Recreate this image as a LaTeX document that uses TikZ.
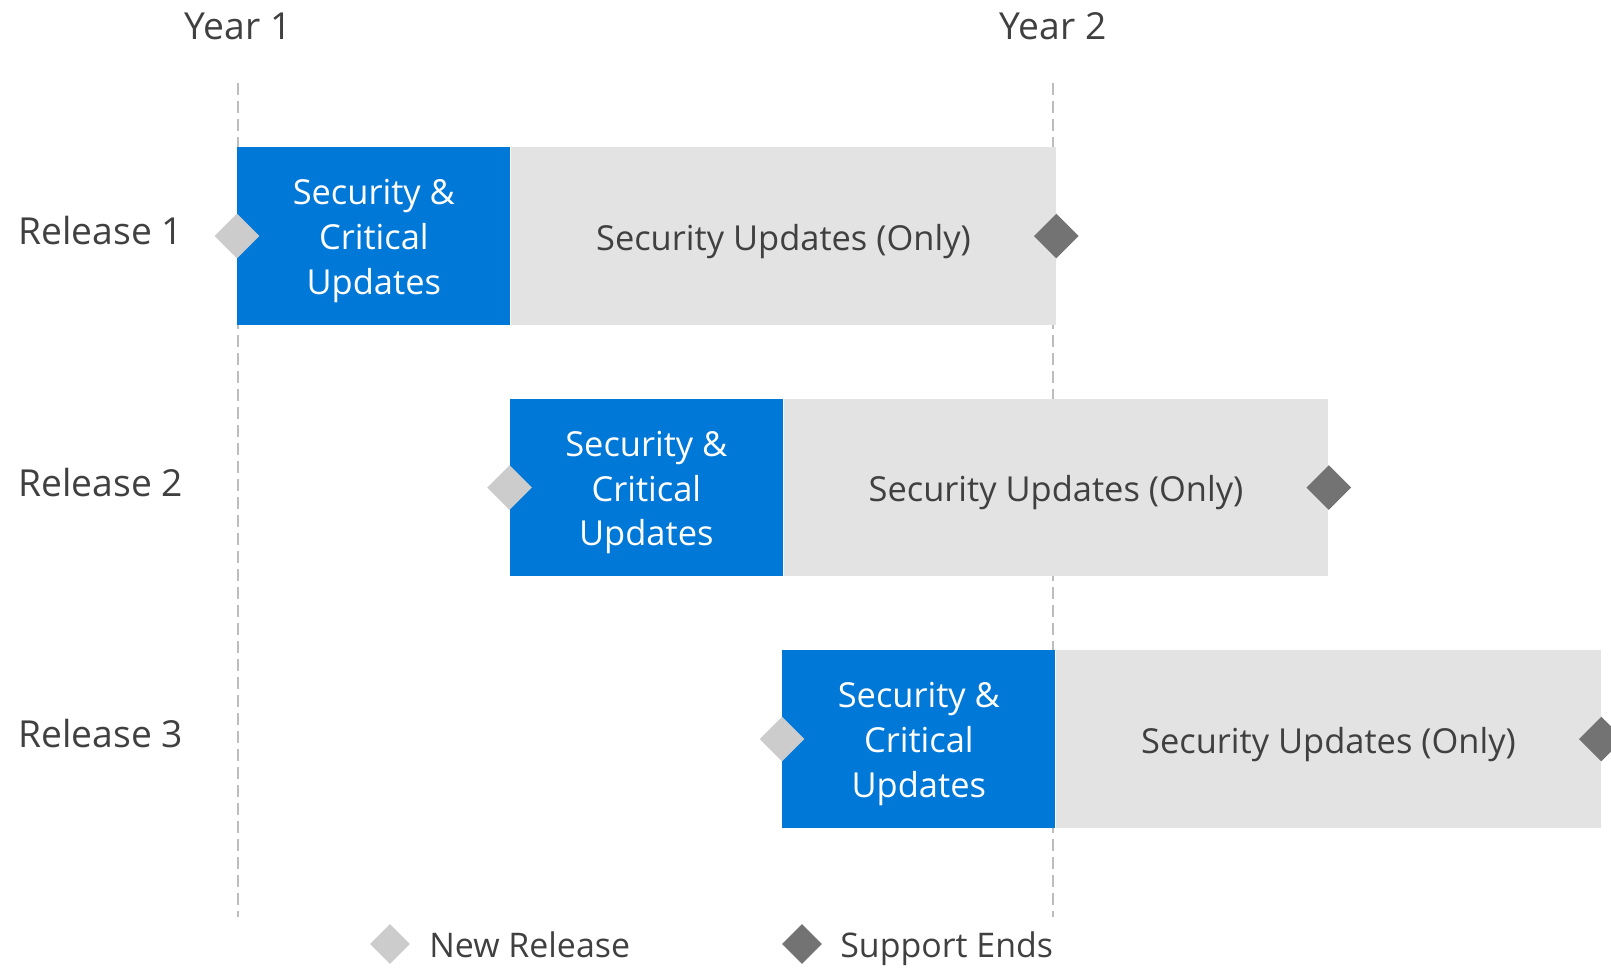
\documentclass[tikz,border=0pt]{standalone}
\usepackage{fontspec}
\setmainfont{Open Sans}
\usetikzlibrary{shapes.geometric}

\definecolor{critblue}{HTML}{0078D7}
\definecolor{secgray}{HTML}{E3E3E3}
\definecolor{newgray}{HTML}{CCCCCC}
\definecolor{endgray}{HTML}{737373}
\definecolor{txtgray}{HTML}{404040}
\definecolor{linegray}{HTML}{BDBDBD}

\begin{document}
\begin{tikzpicture}[x=0.02cm,y=-0.02cm,
	critbox/.style={fill=critblue,minimum width=5.46cm,minimum height=3.55cm,
		inner sep=0pt,anchor=north west},
	secbox/.style={fill=secgray,minimum width=10.9cm,minimum height=3.55cm,
		inner sep=0pt,anchor=north west},
	boxtxt/.style={inner sep=0pt,align=center,yshift=-0.1cm,font=\fontsize{19.6}{25.5}\selectfont},
	newrel/.style={diamond,fill=newgray,minimum size=0.9cm,inner sep=0pt},
	suppend/.style={diamond,fill=endgray,minimum size=0.9cm,inner sep=0pt},
	yearline/.style={draw=linegray,line width=1.1pt,dash pattern=on 0.24cm off 0.12cm},
	lbl/.style={text=txtgray,inner sep=0pt,font=\fontsize{21.2}{25}\selectfont},
	legtxt/.style={text=txtgray,inner sep=0pt,anchor=base west,font=\fontsize{19.3}{24}\selectfont}]
	\useasboundingbox (0,0) rectangle (1611,967);

	% Years
	\node[lbl] (year1) at (238,26) {Year 1};
	\node[lbl] (year2) at (1053,26) {Year 2};
	\coordinate (y1top) at (238,83);
	\coordinate (y1bot) at (238,917);
	\coordinate (y2top) at (1053,83);
	\coordinate (y2bot) at (1053,917);
	\draw[yearline] (y1top) -- (y1bot);
	\draw[yearline] (y2top) -- (y2bot);

	% Releases
	\foreach \i in {1,2,3} {
		\pgfmathsetmacro{\xa}{237+(\i-1)*272.5}
		\pgfmathsetmacro{\ya}{147+(\i-1)*251.5}
		\node[critbox] (crit\i) at (\xa,\ya) {};
		\node[secbox] (sec\i) at (crit\i.north east) {};
		\node[boxtxt,text=white] (crittxt\i) at (crit\i.center) {Security \&\\Critical\\Updates};
		\node[boxtxt,text=txtgray] (sectxt\i) at (sec\i.center) {Security Updates (Only)};
		\node[newrel] (new\i) at (crit\i.west) {};
		\node[suppend] (end\i) at (sec\i.east) {};
		\node[lbl,anchor=west] (rel\i) at (18,\ya+84) {Release \i};
	}

	% Legend
	\node[newrel,minimum size=0.8cm] (legnew) at (390,944) {};
	\node[legtxt] (legnewtxt) at (429,957) {New Release};
	\node[suppend,minimum size=0.8cm] (legend) at (802,944) {};
	\node[legtxt] (legendtxt) at (840,957) {Support Ends};
\end{tikzpicture}
\end{document}
